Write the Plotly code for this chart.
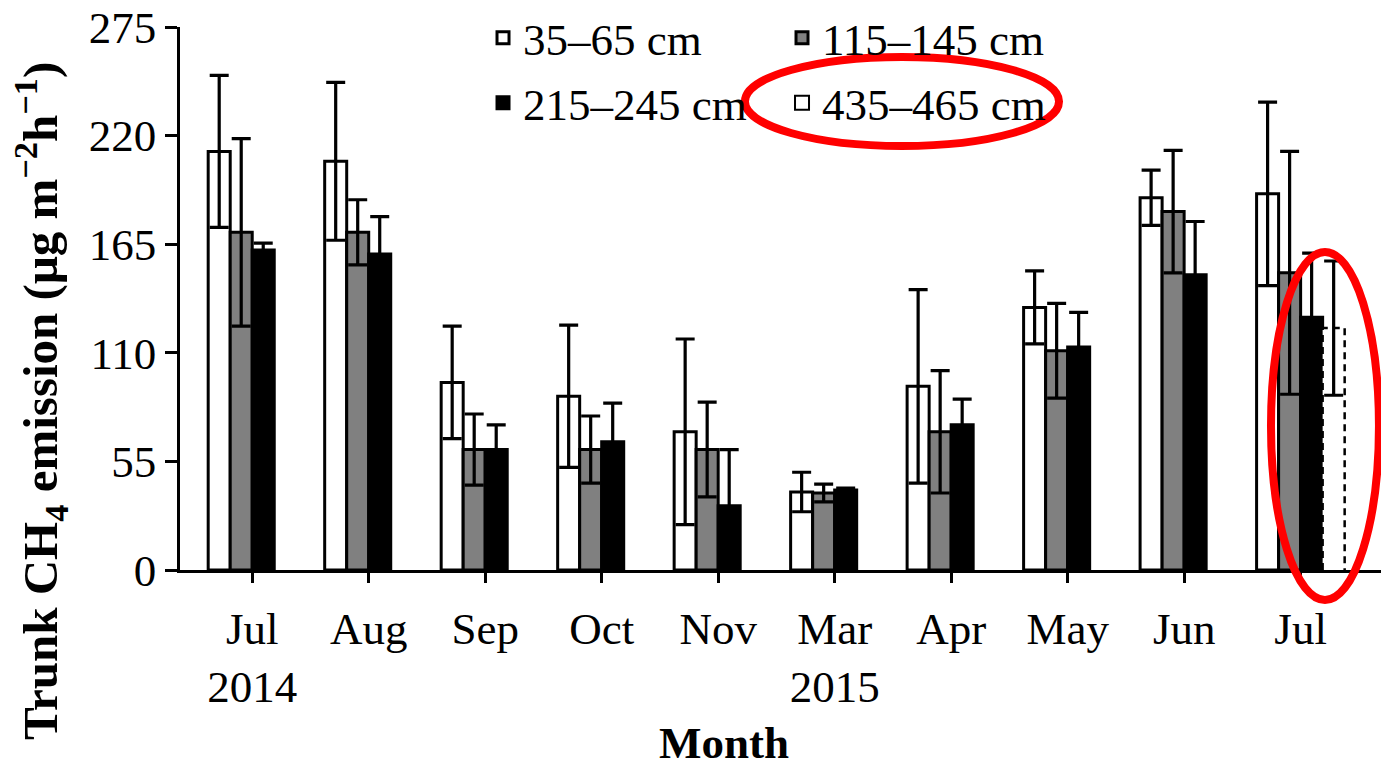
import plotly.graph_objects as go

# Monthly trunk CH4 emission at four stem heights (mean ± SD)
months = ["Jul<br>2014", "Aug", "Sep", "Oct", "Nov", "Mar<br>2015", "Apr", "May", "Jun", "Jul"]

h35_65 = [212, 207, 95, 88, 70, 39.5, 93, 133, 188.5, 190.5]
h35_65_sd = [38.5, 40, 28.5, 36, 47, 10, 49, 18.5, 14, 46.5]

h115_145 = [171, 171, 61, 61, 61, 39, 70, 111, 181.5, 150.5]
h115_145_sd = [47.5, 16.5, 18, 17, 24, 4.5, 31, 24, 31, 61.5]

h215_245 = [162, 160, 61, 65, 32.5, 40.5, 73.5, 113, 149.5, 128]
h215_245_sd = [3.5, 19, 12.5, 19.5, 28.5, 1, 13, 17.5, 27, 32.5]

h435_465 = [None, None, None, None, None, None, None, None, None, 122.5]
h435_465_sd = [None, None, None, None, None, None, None, None, None, 34]

y_ticks = [0, 55, 110, 165, 220, 275]

FONT = "Liberation Serif"
BAR_W = 0.189
x = list(range(len(months)))

fig = go.Figure()


def add_bars(vals, sd, name, fill, offset, line_w=3, show=True, legend="legend"):
    fig.add_trace(go.Bar(
        x=x, y=vals, name=name, width=BAR_W, offset=offset,
        marker=dict(color=fill, line=dict(color="black", width=line_w)),
        error_y=dict(type="data", array=sd, visible=True, color="black",
                     thickness=3.2, width=9.5),
        showlegend=show, legend=legend,
    ))


add_bars(h35_65, h35_65_sd, "35–65 cm", "white", -2 * BAR_W, legend="legend")
add_bars(h115_145, h115_145_sd, "115–145 cm", "#808080", -BAR_W, legend="legend")
add_bars(h215_245, h215_245_sd, "215–245 cm", "black", 0, legend="legend2")
add_bars(h435_465, h435_465_sd, "435–465 cm", "white", BAR_W, line_w=0, show=False)

# dashed outline for the 435–465 cm bars
ox, oy = [], []
for i, v in enumerate(h435_465):
    if v is None:
        continue
    left, right = i + BAR_W, i + 2 * BAR_W
    ox += [left, left, right, right, None]
    oy += [0, v, v, 0, None]
fig.add_trace(go.Scatter(x=ox, y=oy, mode="lines", showlegend=False,
                         line=dict(color="black", width=2.5, dash="7px,5px"),
                         hoverinfo="skip"))
# legend entry for the dashed series
fig.add_trace(go.Scatter(x=[None], y=[None], mode="markers", name="435–465 cm",
                         legend="legend2",
                         marker=dict(symbol="square-open", size=14, color="black",
                                     line=dict(width=2))))

legend_common = dict(orientation="h", xanchor="left", yanchor="middle",
                     font=dict(family=FONT, size=45, color="black"),
                     bgcolor="rgba(0,0,0,0)", entrywidth=254, entrywidthmode="pixels",
                     tracegroupgap=0, itemclick=False)

fig.update_layout(
    width=1381, height=771,
    margin=dict(l=180, r=0, t=27, b=201),
    paper_bgcolor="white", plot_bgcolor="white",
    barmode="overlay",
    font=dict(family=FONT, color="black"),
    legend=dict(x=0.2523, y=0.9797, **legend_common),
    legend2=dict(x=0.2523, y=0.86, **legend_common),
    xaxis=dict(
        range=[-0.62, 9.69], tickmode="array", tickvals=x, ticktext=months,
        ticks="outside", ticklen=10, tickwidth=2.5, tickcolor="black",
        showline=True, linewidth=2.5, linecolor="black",
        showgrid=False, zeroline=False, ticklabelstandoff=7,
        tickfont=dict(family=FONT, size=45, color="black"),
    ),
    yaxis=dict(
        range=[0, 275], tickmode="array", tickvals=y_ticks,
        ticks="outside", ticklen=12, tickwidth=2.5, tickcolor="black",
        showline=True, linewidth=2.5, linecolor="black",
        showgrid=False, zeroline=False,
        tickfont=dict(family=FONT, size=45, color="black"),
    ),
    annotations=[
        dict(text="Trunk CH<sub>4</sub> emission (μg m<sup>−2</sup>h<sup>−1</sup>)",
             textangle=-90, xref="paper", yref="paper", x=-0.1166, y=0.311,
             xanchor="center", yanchor="middle", showarrow=False,
             font=dict(family=FONT, size=49, color="black", weight="bold")),
        dict(text="Month", xref="paper", yref="paper", x=0.453, y=-0.3665,
             xanchor="center", yanchor="bottom", showarrow=False, borderpad=0,
             font=dict(family=FONT, size=45, color="black", weight="bold")),
    ],
    shapes=[
        dict(type="circle", xref="paper", yref="paper",
             x0=0.4704, x1=0.7319, y0=0.7808, y1=0.9448,
             line=dict(color="#FF0000", width=8)),
        dict(type="circle", xref="paper", yref="paper",
             x0=0.9084, x1=0.9983, y0=-0.0552, y1=0.5856,
             line=dict(color="#FF0000", width=8)),
    ],
)

fig.write_html("out.html", config={"displayModeBar": False})
